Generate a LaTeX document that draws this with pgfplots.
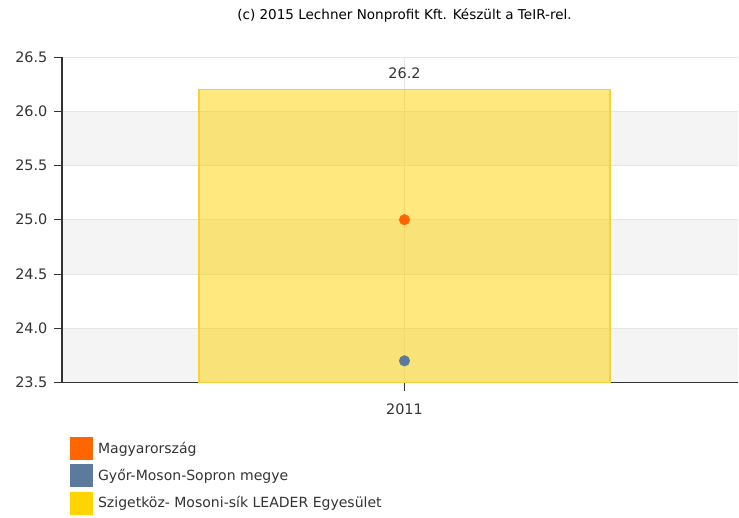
\documentclass[border=0pt]{standalone}
\usepackage{fontspec}
\setmainfont{DejaVu Sans}
\usepackage{pgfplots}
\pgfplotsset{compat=1.18}
\definecolor{hu}{HTML}{FF6600}
\definecolor{gyms}{HTML}{5C7A9C}
\definecolor{leader}{HTML}{FFD400}
\definecolor{leaderedge}{HTML}{F5D23A}
\definecolor{band}{HTML}{F4F4F4}
\definecolor{gridc}{HTML}{E4E4E4}
\definecolor{txt}{HTML}{333333}
\begin{document}
\begin{tikzpicture}
\begin{axis}[
    at={(0,0)}, anchor=south west,
    scale only axis, width=677bp, height=326bp,
    set layers=standard, clip mode=individual,
    xmin=-0.8325, xmax=0.8107, ymin=23.5, ymax=26.5,
    axis x line=bottom, axis y line=left,
    x axis line style={-, draw=txt, line width=1.8bp},
    y axis line style={-, draw=txt, line width=1.2bp},
    xtick={0}, xticklabels={2011},
    ytick={23.5,24,...,26.5},
    tick align=outside, major tick length=8bp,
    every tick/.style={draw=txt, line width=0.8bp},
    ymajorgrids, xmajorgrids,
    grid style={draw=gridc, line width=0.8bp},
    /pgf/number format/assume math mode=true,
    ticklabel style={font=\fontsize{14.5}{17}\selectfont, text=txt},
    yticklabel style={xshift=-3bp, /pgf/number format/.cd, fixed, fixed zerofill, precision=1},
    xticklabel style={yshift=-10bp},
    legend style={at={(8/677,-54/326)}, anchor=north west, draw=none,
        fill=none, inner sep=0pt, row sep=4.5bp,
        font=\fontsize{14.1}{16}\selectfont, text=txt,
        nodes={inner sep=0pt, anchor=west}},
    legend cell align=left,
    /tikz/every odd column/.append style={column sep=5bp},
    legend image code/.code={\fill[#1, draw=none] (0bp,-11.5bp) rectangle (23bp,11.5bp);},
]
\begin{pgfonlayer}{axis background}
\fill[band] (axis cs:-0.8325,25.5) rectangle (axis cs:0.8107,26.0);
\fill[band] (axis cs:-0.8325,24.5) rectangle (axis cs:0.8107,25.0);
\fill[band] (axis cs:-0.8325,23.5) rectangle (axis cs:0.8107,24.0);
\end{pgfonlayer}
\addplot[ybar, bar width=1, bar shift=0, fill=leader, fill opacity=0.5,
    draw=leaderedge, line width=1.6bp, forget plot,
    nodes near coords, nodes near coords style={text opacity=1, text=txt,
        font=\fontsize{14.5}{17}\selectfont, anchor=south, yshift=7bp,
        /pgf/number format/.cd, fixed, precision=1}]
    coordinates {(0,26.2)};
\addplot[only marks, mark=*, mark size=5.3bp, color=hu, forget plot]
    coordinates {(0,25.0)};
\addplot[only marks, mark=*, mark size=5.3bp, color=gyms, forget plot]
    coordinates {(0,23.7)};
\addlegendimage{fill=hu}
\addlegendentry{Magyarország}
\addlegendimage{fill=gyms}
\addlegendentry{Győr-Moson-Sopron megye}
\addlegendimage{fill=leader}
\addlegendentry{Szigetköz- Mosoni-sík LEADER Egyesület}
\node[font=\fontsize{13.6}{15}\selectfont, text=black] at (axis cs:0,26.5) [yshift=41bp] {(c) 2015 Lechner Nonprofit Kft. Készült a TeIR-rel.};
\end{axis}
\path (-62bp,-135bp) rectangle (677bp,383bp);
\end{tikzpicture}
\end{document}
